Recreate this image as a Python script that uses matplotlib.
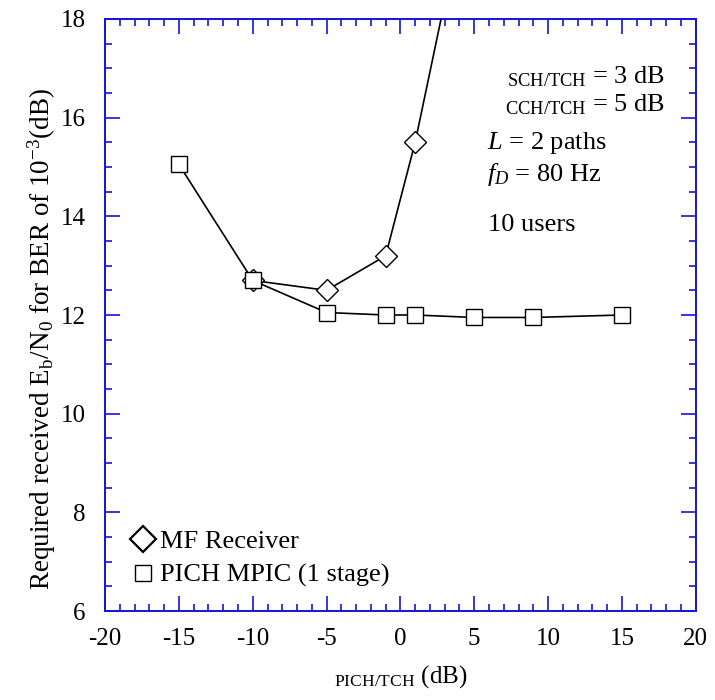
import numpy as np
import matplotlib
matplotlib.use('Agg')
import matplotlib.pyplot as plt
from matplotlib.lines import Line2D
from matplotlib.ticker import MultipleLocator

plt.rcParams['font.family'] = ['Liberation Serif', 'DejaVu Serif']
plt.rcParams['mathtext.fontset'] = 'custom'
plt.rcParams['mathtext.rm'] = 'Liberation Serif'
plt.rcParams['mathtext.it'] = 'Liberation Serif:italic'
plt.rcParams['axes.unicode_minus'] = False

# MF receiver (last point lies above the axis top)
mf_x = [-10, -5, -1, 1, 5]
mf_y = [12.7, 12.5, 13.2, 15.5, 21.2]

# PICH MPIC, 1 stage
mpic_x = [-15, -10, -5, -1, 1, 5, 9, 15]
mpic_y = [15.05, 12.7, 12.05, 12.0, 12.0, 11.95, 11.95, 12.0]

axis_blue = '#1414dc'

fig = plt.figure(figsize=(7.15, 7.0), dpi=100)
ax = fig.add_axes([0.147, 0.127, 0.826, 0.846])

ax.plot(mf_x, mf_y, color='black', lw=1.2, marker='D', ms=11,
        mfc='white', mec='black', mew=1.0, zorder=3)
ax.plot(mpic_x, mpic_y, color='black', lw=1.2, marker='s', ms=12,
        mfc='white', mec='black', mew=1.0, zorder=3)

ax.set_xlim(-20, 20)
ax.set_ylim(6, 18)
ax.xaxis.set_major_locator(MultipleLocator(5))
ax.xaxis.set_minor_locator(MultipleLocator(1))
ax.yaxis.set_major_locator(MultipleLocator(2))
ax.yaxis.set_minor_locator(MultipleLocator(0.5))
ax.tick_params(which='both', direction='in', top=True, right=True,
               color=axis_blue, labelsize=18, width=1.2)
ax.tick_params(which='major', length=11)
ax.tick_params(which='minor', length=5)
ax.tick_params(axis='x', pad=12)
ax.tick_params(axis='y', pad=14)
for sp in ax.spines.values():
    sp.set_color(axis_blue)
    sp.set_linewidth(1.4)

ax.set_ylabel(r'Required received E$_{\mathrm{b}}$/N$_{\mathrm{0}}$ for BER of 10$^{-3}$(dB)',
              fontsize=19.5)
ax.yaxis.set_label_coords(-0.08, 0.46)
ax.set_xlabel(r'${}_{\mathrm{PICH/TCH}}$ (dB)', fontsize=18, labelpad=10)

ax.text(0.948, 0.902, r'${}_{\mathrm{SCH/TCH}}$ = 3 dB', transform=ax.transAxes,
        ha='right', va='center', fontsize=19)
ax.text(0.948, 0.855, r'${}_{\mathrm{CCH/TCH}}$ = 5 dB', transform=ax.transAxes,
        ha='right', va='center', fontsize=19)
ax.text(0.646, 0.79, r'$L$ = 2 paths', transform=ax.transAxes,
        ha='left', va='center', fontsize=19)
ax.text(0.646, 0.737, r'$f_D$ = 80 Hz', transform=ax.transAxes,
        ha='left', va='center', fontsize=19)
ax.text(0.649, 0.652, '10 users', transform=ax.transAxes,
        ha='left', va='center', fontsize=19)

handles = [
    Line2D([], [], ls='none', marker='D', ms=13, mfc='white', mec='black', mew=1.6),
    Line2D([], [], ls='none', marker='s', ms=11, mfc='white', mec='black', mew=1.0),
]
ax.legend(handles, ['MF Receiver', 'PICH MPIC (1 stage)'], loc='lower left',
          bbox_to_anchor=(0.042, 0.04), frameon=False, fontsize=19,
          handlelength=1.0, handletextpad=0.15, labelspacing=0.4, borderpad=0,
          borderaxespad=0)

fig.savefig('out.png', dpi=100)
